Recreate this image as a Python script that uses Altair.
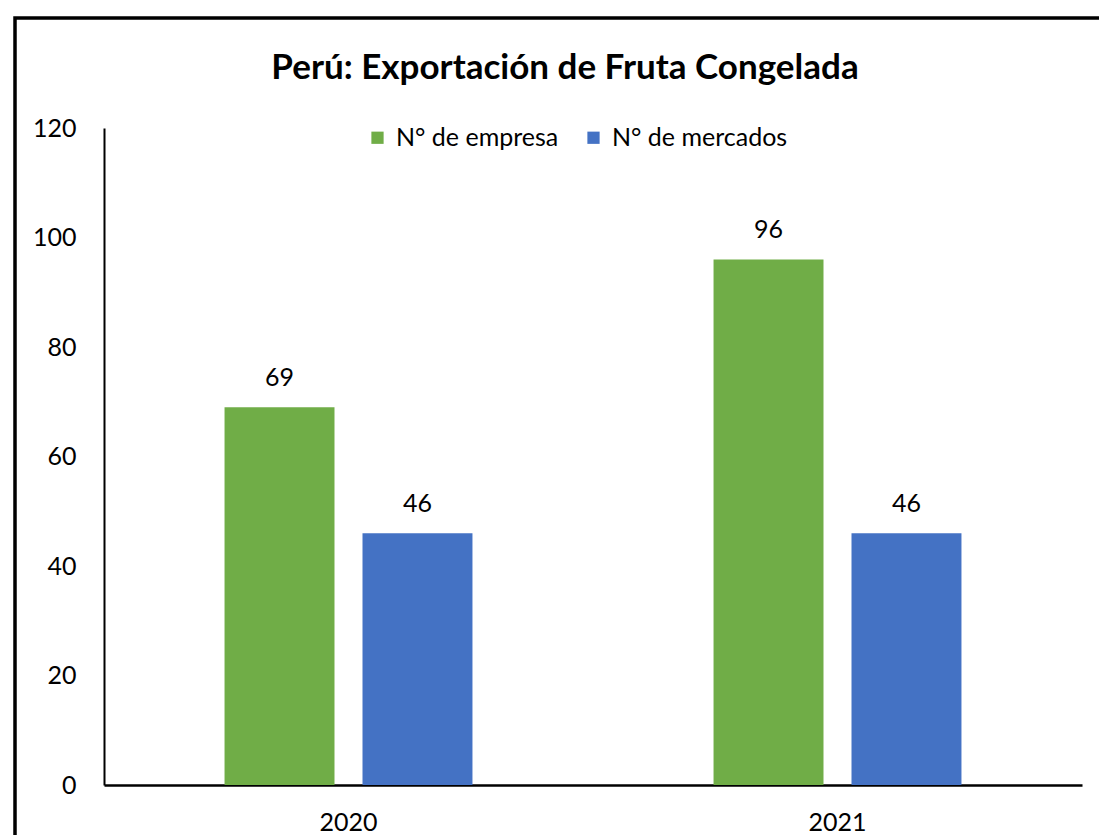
import altair as alt
import pandas as pd

years = ["2020", "2020", "2021", "2021"]
series = ["N° de empresa", "N° de mercados", "N° de empresa", "N° de mercados"]
values = [69, 46, 96, 46]
series_order = ["N° de empresa", "N° de mercados"]
colors = ["#70AD47", "#4472C4"]
title_text = "Perú: Exportación de Fruta Congelada"

df = pd.DataFrame({"year": years, "series": series, "value": values})

FONT = "Lato"

x_enc = alt.X("year:N", title=None,
              scale=alt.Scale(paddingInner=0.493, paddingOuter=0.2465),
              axis=alt.Axis(labelAngle=0, labelFontSize=25, labelColor="black",
                            labelPadding=25, ticks=False, domainColor="black",
                            domainWidth=2.5, labelFont=FONT))
y_enc = alt.Y("value:Q", title=None,
              scale=alt.Scale(domain=[0, 120], nice=False),
              axis=alt.Axis(values=[0, 20, 40, 60, 80, 100, 120], grid=False,
                            ticks=False, labelFontSize=25, labelColor="black",
                            labelPadding=28, domainColor="black", domainWidth=2,
                            labelFont=FONT))
xo = alt.XOffset("series:N", sort=series_order,
                 scale=alt.Scale(paddingInner=0.203, paddingOuter=0))
color = alt.Color("series:N", sort=series_order,
                  scale=alt.Scale(domain=series_order, range=colors),
                  legend=alt.Legend(title=None, orient="none", direction="horizontal",
                                    legendX=261, legendY=-3, symbolType="square",
                                    symbolSize=150, symbolStrokeWidth=0,
                                    labelFontSize=25, labelFont=FONT, labelColor="black",
                                    labelLimit=0, columnPadding=22, labelOffset=6,
                                    padding=0))

base = alt.Chart(df)

bars = base.mark_bar().encode(x=x_enc, y=y_enc, xOffset=xo, color=color)
labels = base.mark_text(baseline="bottom", dy=-16, fontSize=25, font=FONT,
                        color="black").encode(
    x=alt.X("year:N"), y=alt.Y("value:Q"), xOffset=xo, text=alt.Text("value:Q"))

title = alt.Chart(pd.DataFrame({"t": [title_text]})).mark_text(
    fontSize=35, font=FONT, fontWeight="bold", color="black",
    align="center", baseline="middle").encode(
    text="t:N", x=alt.value(461), y=alt.value(-60))

frame = alt.Chart(pd.DataFrame({"f": [0]})).mark_rect(
    fill="transparent", stroke="black", strokeWidth=3.5, clip=False).encode(
    x=alt.value(-89), x2=alt.value(1100), y=alt.value(-110), y2=alt.value(900))

chart = alt.layer(bars, labels, title, frame).properties(
    width=978, height=657,
    autosize=alt.AutoSizeParams(type="none"),
    padding={"left": 96, "top": 120, "right": 17, "bottom": 50},
).configure(font=FONT).configure_view(stroke="transparent", strokeWidth=0)

chart.save("out.html", embed_options={"renderer": "svg", "actions": False})
